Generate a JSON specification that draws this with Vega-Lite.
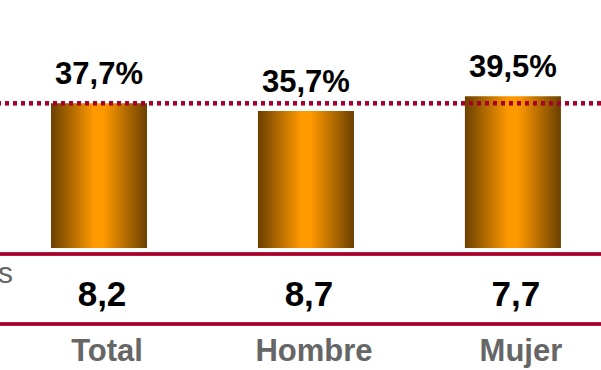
{
  "$schema": "https://vega.github.io/schema/vega-lite/v6.json",
  "width": 601,
  "height": 370,
  "autosize": {"type": "none"},
  "padding": 0,
  "background": "white",
  "config": {"view": {"stroke": null}, "font": "Liberation Sans"},
  "data": {
    "values": [
      {"cat": "Total", "pct": 37.7, "pctLabel": "37,7%", "val": "8,2"},
      {"cat": "Hombre", "pct": 35.7, "pctLabel": "35,7%", "val": "8,7"},
      {"cat": "Mujer", "pct": 39.5, "pctLabel": "39,5%", "val": "7,7"}
    ]
  },
  "encoding": {
    "x": {
      "field": "cat", "type": "nominal", "sort": ["Total", "Hombre", "Mujer"],
      "scale": {"paddingInner": 0.536, "paddingOuter": 0.22, "align": 0.56},
      "axis": null
    }
  },
  "layer": [
    {
      "mark": {
        "type": "bar",
        "color": {
          "gradient": "linear", "x1": 0, "x2": 1, "y1": 0, "y2": 0,
          "stops": [
            {"offset": 0, "color": "#6B4000"},
            {"offset": 0.45, "color": "#FF9900"},
            {"offset": 0.55, "color": "#FF9900"},
            {"offset": 1, "color": "#6B4000"}
          ]
        }
      },
      "encoding": {
        "y": {"field": "pct", "type": "quantitative", "scale": {"domain": [-31.8, 64.6], "nice": false, "zero": false}, "axis": null}
      }
    },
    {
      "mark": {"type": "rule", "color": "#A8002A", "strokeWidth": 4, "strokeDash": [4, 4]},
      "encoding": {"x": null, "y": {"datum": 37.7, "type": "quantitative"}}
    },
    {
      "mark": {"type": "rule", "color": "#A8002A", "strokeWidth": 3},
      "encoding": {"x": null, "y": {"datum": -1.58, "type": "quantitative"}}
    },
    {
      "mark": {"type": "rule", "color": "#A8002A", "strokeWidth": 3},
      "encoding": {"x": null, "y": {"datum": -19.8, "type": "quantitative"}}
    },
    {
      "mark": {"type": "text", "fontSize": 31, "fontWeight": "bold", "color": "#000000", "baseline": "alphabetic", "dy": -19},
      "encoding": {
        "y": {"field": "pct", "type": "quantitative"},
        "text": {"field": "pctLabel"}
      }
    },
    {
      "mark": {"type": "text", "fontSize": 35, "fontWeight": "bold", "color": "#000000", "baseline": "alphabetic", "dx": 3},
      "encoding": {
        "y": {"datum": -15.1, "type": "quantitative"},
        "text": {"field": "val"}
      }
    },
    {
      "mark": {"type": "text", "fontSize": 31, "fontWeight": "bold", "color": "#666666", "baseline": "alphabetic", "dx": 8},
      "encoding": {
        "y": {"datum": -29.44, "type": "quantitative"},
        "text": {"field": "cat"}
      }
    },
    {
      "data": {"values": [{"cat": "Total", "t": "s"}]},
      "mark": {"type": "text", "fontSize": 30, "color": "#666666", "baseline": "alphabetic", "align": "right", "dx": -86},
      "encoding": {
        "y": {"datum": -9.1, "type": "quantitative"},
        "text": {"field": "t"}
      }
    }
  ]
}
